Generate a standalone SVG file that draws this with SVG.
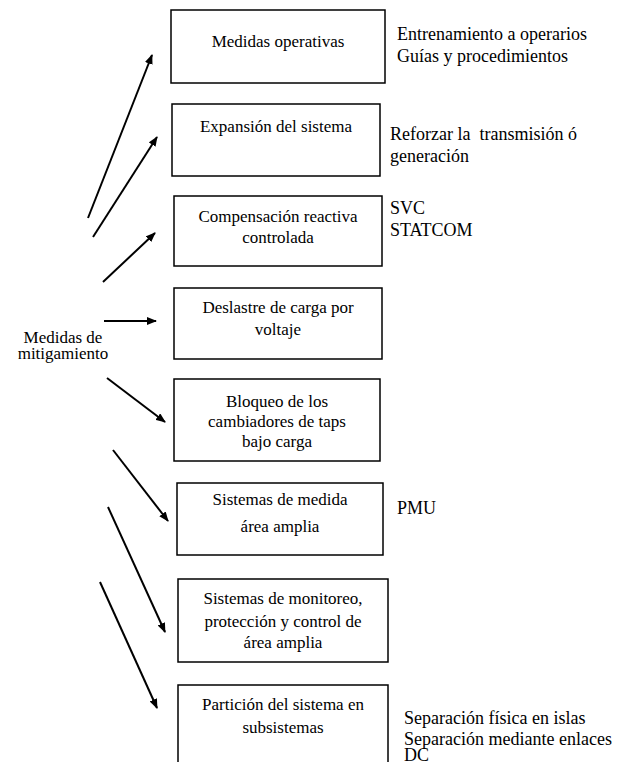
<svg xmlns="http://www.w3.org/2000/svg" width="621" height="762" viewBox="0 0 621 762">
<defs>
<marker id="ah" markerWidth="10" markerHeight="8" refX="9" refY="4" orient="auto" markerUnits="userSpaceOnUse">
<path d="M0,0 L10,4 L0,8 z" fill="#000"/>
</marker>
<style>
.box{fill:#fff;stroke:#000;stroke-width:1.5}
text{font-family:"Liberation Serif","Times New Roman",serif;font-size:17px;fill:#000}
.n{font-size:18px}
.c{text-anchor:middle}
.ln{stroke:#000;stroke-width:2;fill:none;marker-end:url(#ah)}
</style>
</defs>
<rect width="621" height="762" fill="#fff"/>
<g id="root"><text class="c" x="63" y="343">Medidas de</text><text class="c" x="63" y="359">mitigamiento</text></g>
<g id="n1"><rect class="box" x="171" y="10" width="214" height="73"/><text class="c" x="278" y="47">Medidas operativas</text></g>
<g id="n2"><rect class="box" x="172" y="104" width="208" height="72"/><text class="c" x="276" y="132">Expansión del sistema</text></g>
<g id="n3"><rect class="box" x="174" y="196" width="208" height="70"/><text class="c" x="278" y="222">Compensación reactiva</text><text class="c" x="278" y="243">controlada</text></g>
<g id="n4"><rect class="box" x="174" y="288" width="208" height="71"/><text class="c" x="278" y="313">Deslastre de carga por</text><text class="c" x="278" y="335">voltaje</text></g>
<g id="n5"><rect class="box" x="174" y="379" width="206" height="82"/><text class="c" x="277" y="407">Bloqueo de los</text><text class="c" x="277" y="427">cambiadores de taps</text><text class="c" x="277" y="447">bajo carga</text></g>
<g id="n6"><rect class="box" x="177" y="483" width="206" height="72"/><text class="c" x="280" y="505">Sistemas de medida</text><text class="c" x="280" y="532">área amplia</text></g>
<g id="n7"><rect class="box" x="178" y="579" width="210" height="83"/><text class="c" x="283" y="604">Sistemas de monitoreo,</text><text class="c" x="283" y="627">protección y control de</text><text class="c" x="283" y="648">área amplia</text></g>
<g id="n8"><rect class="box" x="178" y="685" width="210" height="100"/><text class="c" x="283" y="710">Partición del sistema en</text><text class="c" x="283" y="733">subsistemas</text></g>
<g id="notes">
<text class="n" x="397" y="40">Entrenamiento a operarios</text><text class="n" x="397" y="62">Guías y procedimientos</text>
<text class="n" x="390" y="140" xml:space="preserve">Reforzar la  transmisión ó</text><text class="n" x="390" y="162">generación</text>
<text class="n" x="390" y="214">SVC</text><text class="n" x="390" y="236">STATCOM</text>
<text class="n" x="397" y="514">PMU</text>
<text class="n" x="404" y="724">Separación física en islas</text><text class="n" x="404" y="745">Separación mediante enlaces</text><text class="n" x="404" y="761">DC</text>
</g>
<g id="connectors">
<line class="ln" x1="88" y1="218" x2="152" y2="55"/>
<line class="ln" x1="93" y1="237" x2="157" y2="137"/>
<line class="ln" x1="103" y1="282" x2="155" y2="233"/>
<line class="ln" x1="104" y1="321" x2="156" y2="321"/>
<line class="ln" x1="107" y1="378" x2="165" y2="422"/>
<line class="ln" x1="113" y1="450" x2="168" y2="521"/>
<line class="ln" x1="108" y1="507" x2="165" y2="632"/>
<line class="ln" x1="100" y1="582" x2="157" y2="708"/>
</g>
</svg>
